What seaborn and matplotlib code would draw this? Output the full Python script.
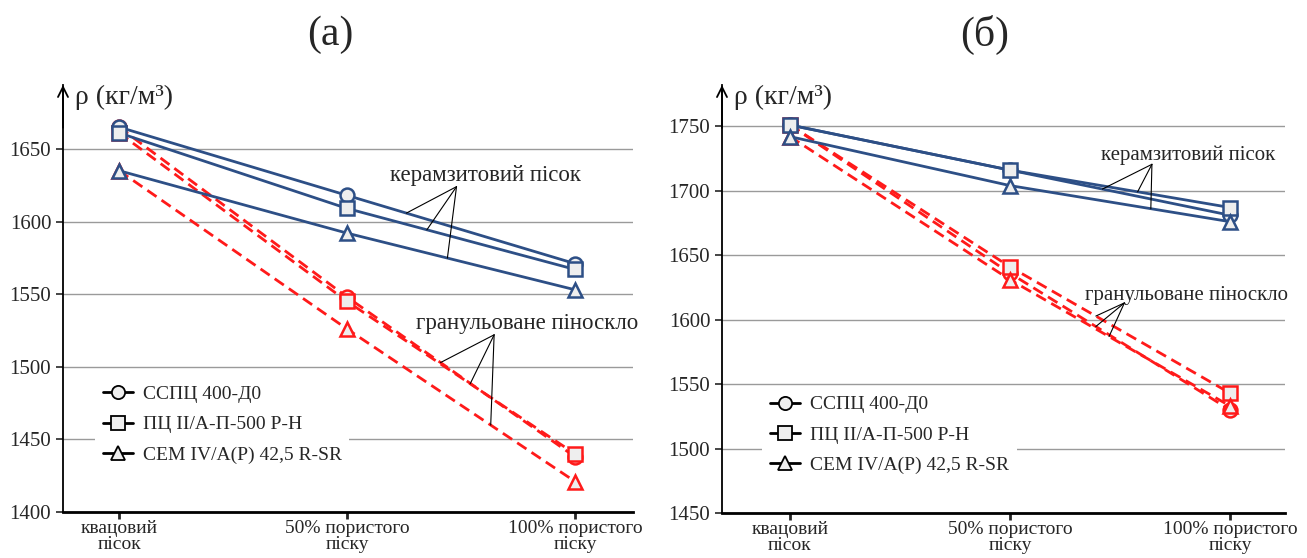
import numpy as np
import pandas as pd
import matplotlib
matplotlib.use("Agg")
import matplotlib.pyplot as plt
import seaborn as sns
from matplotlib.lines import Line2D

# ---------------- data ----------------
categories = ["квацовий\nпісок", "50% пористого\nпіску", "100% пористого\nпіску"]
series_names = ["ССПЦ 400-Д0", "ПЦ II/А-П-500 Р-Н", "CEM IV/A(P) 42,5 R-SR"]

# panel (a)
a_keramzit_circle = [1665, 1618, 1571]
a_keramzit_square = [1661, 1609, 1567]
a_keramzit_triangle = [1635, 1592, 1553]
a_foam_circle = [1665, 1548, 1438]
a_foam_square = [1661, 1545, 1440]
a_foam_triangle = [1635, 1526, 1421]

# panel (б)
b_keramzit_circle = [1751, 1716, 1681]
b_keramzit_square = [1751, 1716, 1687]
b_keramzit_triangle = [1742, 1704, 1676]
b_foam_circle = [1751, 1636, 1530]
b_foam_square = [1751, 1641, 1543]
b_foam_triangle = [1742, 1631, 1533]

a_yticks = [1400, 1450, 1500, 1550, 1600, 1650]
b_yticks = [1450, 1500, 1550, 1600, 1650, 1700, 1750]

panel_titles = ["(а)", "(б)"]
ylabel_text = "ρ (кг/м³)"
label_keramzit = "керамзитовий пісок"
label_foam = "гранульоване піноскло"

# ---------------- style ----------------
sns.set_style("white")
plt.rcParams["font.family"] = ["Liberation Serif", "DejaVu Serif"]

BLUE = "#2d4f86"
RED = "#ff1a1a"
FILL = "#eeeeee"
markers = ["o", "s", "^"]

fig = plt.figure(figsize=(13.07, 5.58), dpi=100)
ax_a = fig.add_axes([0.0482, 0.0824, 0.4361, 0.7653])
ax_b = fig.add_axes([0.5524, 0.0806, 0.4308, 0.767])

xpos = np.arange(len(categories))


def draw_panel(ax, ker, foam, ylim, yticks, xlim, legend_anchor, ann_k, ann_f, ann_fs):
    # keramzit sand - solid blue
    for vals, m in zip(ker, markers):
        sns.lineplot(x=xpos, y=vals, ax=ax, color=BLUE, lw=2.0, marker=m,
                     markersize=10 if m != "^" else 10.5, markerfacecolor=FILL,
                     markeredgecolor=BLUE, markeredgewidth=1.8, sort=False, zorder=3)
    # foam glass - dashed red
    for vals, m in zip(foam, markers):
        sns.lineplot(x=xpos, y=vals, ax=ax, color=RED, lw=2.0, marker=m,
                     markersize=10 if m != "^" else 10.5, markerfacecolor=FILL,
                     markeredgecolor=RED, markeredgewidth=1.8, sort=False,
                     dashes=False, zorder=2.5)
        ax.lines[-1].set_linestyle((0, (4, 2.2)))

    ax.set_xlim(*xlim)
    ax.set_ylim(*ylim)
    ax.set_yticks(yticks)
    ax.set_xticks(xpos)
    ax.set_xticklabels(categories, fontsize=14, linespacing=0.95)
    ax.tick_params(axis="y", labelsize=15, length=5, width=1.2, direction="out",
                   left=True, pad=3.5)
    ax.tick_params(axis="x", length=5, width=2, direction="out", bottom=True, pad=0.5)
    ax.grid(axis="y", color="#9a9a9a", lw=1.0)
    ax.grid(axis="x", visible=False)
    for s in ["top", "right"]:
        ax.spines[s].set_visible(False)
    ax.spines["left"].set_linewidth(1.3)
    ax.spines["bottom"].set_linewidth(2.0)
    ax.spines["left"].set_color("black")
    ax.spines["bottom"].set_color("black")
    ax.set_xlabel("")
    ax.set_ylabel("")

    # arrow on y axis
    ax.annotate("", xy=(0, 1.0), xytext=(0, 0.9), xycoords="axes fraction",
                arrowprops=dict(arrowstyle="->", lw=1.3, color="black",
                                mutation_scale=18, shrinkA=0, shrinkB=0),
                annotation_clip=False)
    ax.text(0.021, 0.972, ylabel_text, transform=ax.transAxes, fontsize=20,
            ha="left", va="center")

    # annotations
    for (txt, tx, ty, cx, cy, pts, series) in [ann_k + (ker,), ann_f + (foam,)]:
        ax.text(tx, ty, txt, fontsize=ann_fs, ha="center", va="center", zorder=5)
        for px, vals in zip(pts, series):
            py = np.interp(px, xpos, vals)
            ax.plot([cx, px], [cy, py], color="black", lw=0.8, zorder=4)

    # legend
    handles = [Line2D([0], [0], color="black", lw=2.0, marker=m, markersize=9.5,
                      markerfacecolor=FILL, markeredgecolor="black",
                      markeredgewidth=1.3) for m in markers]
    leg = ax.legend(handles, series_names, loc="upper left",
                    bbox_to_anchor=legend_anchor, frameon=True, fontsize=14,
                    handlelength=1.55, handletextpad=0.5, labelspacing=0.65,
                    borderpad=0.4, fancybox=False)
    leg.get_frame().set_facecolor("white")
    leg.get_frame().set_edgecolor("none")
    leg.get_frame().set_alpha(1)


draw_panel(ax_a,
           [a_keramzit_circle, a_keramzit_square, a_keramzit_triangle],
           [a_foam_circle, a_foam_square, a_foam_triangle],
           (1400, 1694), a_yticks, (-0.246, 2.254), (0.039, 0.337),
           (label_keramzit, 1.605, 1632, 1.48, 1624, [1.26, 1.35, 1.44]),
           (label_foam, 1.79, 1530, 1.645, 1522, [1.41, 1.54, 1.63]), 16.5)

draw_panel(ax_b,
           [b_keramzit_circle, b_keramzit_square, b_keramzit_triangle],
           [b_foam_circle, b_foam_square, b_foam_triangle],
           (1450, 1782), b_yticks, (-0.309, 2.25), (0.054, 0.315),
           (label_keramzit, 1.81, 1727.5, 1.645, 1720.5, [1.42, 1.58, 1.64]),
           (label_foam, 1.80, 1618.7, 1.52, 1613, [1.39, 1.39, 1.45]), 15)

fig.text(330 / 1307, 1 - 35 / 558, panel_titles[0], fontsize=30, ha="center", va="center")
fig.text(985 / 1307, 1 - 35 / 558, panel_titles[1], fontsize=30, ha="center", va="center")

fig.savefig("out.png", dpi=100)
